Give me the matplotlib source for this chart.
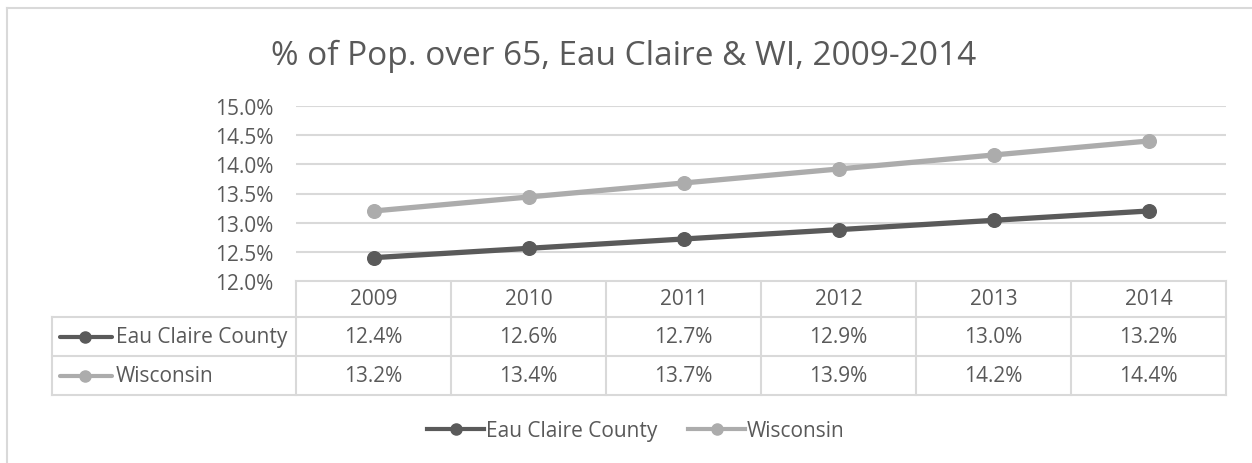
import matplotlib.pyplot as plt
from matplotlib.lines import Line2D
from matplotlib.ticker import FuncFormatter

plt.rcParams['font.family'] = ['Open Sans', 'DejaVu Sans']

years = ['2009', '2010', '2011', '2012', '2013', '2014']
eau_claire = [12.40, 12.56, 12.72, 12.88, 13.04, 13.20]
wisconsin = [13.20, 13.44, 13.68, 13.92, 14.16, 14.40]
series = [('Eau Claire County', eau_claire, '#5a5a5a'),
          ('Wisconsin', wisconsin, '#acacac')]
title = '% of Pop. over 65, Eau Claire & WI, 2009-2014'

txt = '#595959'
grid = '#d9d9d9'
W, H = 1252, 464
fs = 15

# plot area in pixels
L, R, T, B = 296, 1226, 107, 282

fig = plt.figure(figsize=(W / 100, H / 100), dpi=100)

# overlay in pixel coords for frame and data table
ov = fig.add_axes([0, 0, 1, 1])
ov.set_xlim(0, W)
ov.set_ylim(H, 0)
ov.axis('off')

ax = fig.add_axes([L / W, 1 - B / H, (R - L) / W, (B - T) / H])
x = range(len(years))
for name, vals, col in series:
    ax.plot(x, vals, color=col, lw=3.8, marker='o', ms=9.8, label=name,
            solid_capstyle='round')
ax.set_xlim(-0.5, len(years) - 0.5)
ax.set_ylim(12, 15)
ax.set_yticks([12 + 0.5 * i for i in range(7)])
ax.yaxis.set_major_formatter(FuncFormatter(lambda v, p: f'{v:.1f}%'))
ax.set_xticks([])
ax.tick_params(axis='y', length=0, pad=16, labelsize=fs, labelcolor=txt)
ax.grid(axis='y', color=grid, lw=1.5)
ax.set_axisbelow(True)
for s in ax.spines.values():
    s.set_visible(False)

# chart frame
ov.plot([7, W], [9, 9], color=grid, lw=1.5)
ov.plot([7, 7], [9, H], color=grid, lw=1.5)

ov.text(W / 2 - 2, 65, title, ha='center', va='baseline', fontsize=24, color=txt)

# data table
cw = (R - L) / len(years)
rows = [B, 318, 357, 396]
tl = 52
lk = dict(color=grid, lw=1.5)
ov.plot([L, R], [rows[0], rows[0]], **lk)
for yy in rows[1:]:
    ov.plot([tl, R], [yy, yy], **lk)
ov.plot([tl, tl], [rows[1], rows[3]], **lk)
for i in range(len(years) + 1):
    xx = L + i * cw
    ov.plot([xx, xx], [rows[0], rows[3]], **lk)
for i, yr in enumerate(years):
    ov.text(L + (i + 0.5) * cw, (rows[0] + rows[1]) / 2, yr, ha='center',
            va='center', fontsize=fs, color=txt)
for r, (name, vals, col) in enumerate(series):
    yc = (rows[r + 1] + rows[r + 2]) / 2
    ov.plot([60, 112], [yc, yc], color=col, lw=3, solid_capstyle='round')
    ov.plot([85], [yc], 'o', color=col, ms=8)
    ov.text(116, yc, name, ha='left', va='center', fontsize=fs, color=txt)
    for i, v in enumerate(vals):
        ov.text(L + (i + 0.5) * cw, yc, f'{v:.1f}%', ha='center', va='center',
                fontsize=fs, color=txt)

handles = [Line2D([], [], color=c, lw=3, marker='o', ms=8) for _, _, c in series]
fig.legend(handles, [n for n, _, _ in series], loc='center',
           bbox_to_anchor=(636 / W, 1 - 432 / H), ncol=2, frameon=False,
           fontsize=fs, labelcolor=txt, handlelength=2.7, handletextpad=0.1,
           columnspacing=1.5)

fig.savefig('out.png', dpi=100)
